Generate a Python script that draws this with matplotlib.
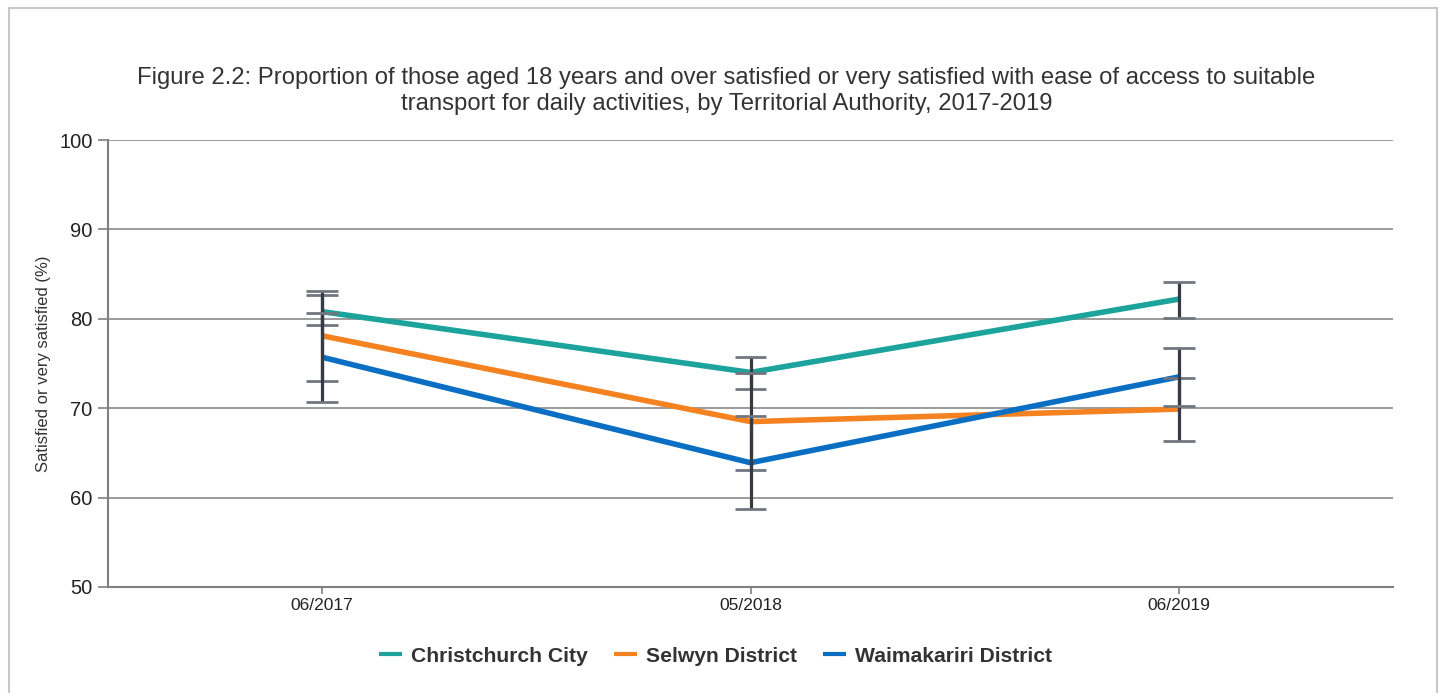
import matplotlib.pyplot as plt
from matplotlib.patches import Rectangle

plt.rcParams['font.family'] = ['Liberation Sans', 'DejaVu Sans']

periods = ['06/2017', '05/2018', '06/2019']
series = ['Christchurch City', 'Selwyn District', 'Waimakariri District']
colors = ['#1ba39c', '#f58220', '#0a6fc2']

values = {
    'Christchurch City': [80.8, 74.0, 82.2],
    'Selwyn District': [78.1, 68.5, 69.9],
    'Waimakariri District': [75.7, 63.9, 73.5],
}
lower = {
    'Christchurch City': [79.3, 72.2, 80.1],
    'Selwyn District': [73.0, 63.1, 66.3],
    'Waimakariri District': [70.7, 58.7, 70.2],
}
upper = {
    'Christchurch City': [82.7, 75.7, 84.1],
    'Selwyn District': [83.1, 73.9, 73.4],
    'Waimakariri District': [80.6, 69.1, 76.7],
}

fig = plt.figure(figsize=(14.44, 6.93), dpi=100)
fig.patches.append(Rectangle((9 / 1444, -0.01), 1428 / 1444, 1 - 8 / 693 + 0.01,
                             transform=fig.transFigure, fill=False,
                             edgecolor='#c8c8c8', linewidth=1.5))
ax = fig.add_axes([108 / 1444, 1 - 587 / 693, 1285 / 1444, 447 / 693])

x = [i + 0.5 for i in range(len(periods))]
for name, c in zip(series, colors):
    ax.plot(x, values[name], color=c, linewidth=4, label=name,
            solid_capstyle='butt', zorder=3)

# error bars drawn over the lines
for name in series:
    for xi, lo, hi in zip(x, lower[name], upper[name]):
        ax.vlines(xi, lo, hi, color='#353a45', linewidth=2.3, zorder=4)
        ax.hlines([lo, hi], xi - 0.037, xi + 0.037, color='#72767e',
                  linewidth=2, zorder=4)

ax.set_xlim(0, 3)
ax.set_ylim(50, 100)
ax.set_yticks(range(50, 101, 10))
ax.set_xticks(x)
ax.set_xticklabels(periods, fontsize=12.5, color='#222222')
ax.tick_params(axis='y', labelsize=14.5, colors='#222222', length=7,
               width=1.2, pad=4)
ax.tick_params(axis='y', color='#808080')
ax.tick_params(axis='x', length=5, width=1.2, color='#808080', pad=3)
ax.grid(axis='y', color='#8a8a8a', linewidth=1.2)
ax.set_axisbelow(True)
for s in ['top', 'right']:
    ax.spines[s].set_visible(False)
for s in ['left', 'bottom']:
    ax.spines[s].set_color('#808080')
    ax.spines[s].set_linewidth(1.5)

ax.set_ylabel('Satisfied or very satisfied (%)', fontsize=12,
              color='#333333', labelpad=6)

fig.text(0.503, 1 - 91 / 693,
         'Figure 2.2: Proportion of those aged 18 years and over satisfied or very satisfied with ease of access to suitable\n'
         'transport for daily activities, by Territorial Authority, 2017-2019',
         ha='center', va='center', fontsize=17.2, color='#333333',
         linespacing=1.25)

leg = fig.legend(loc='center', bbox_to_anchor=(0.4955, 1 - 656 / 693),
                 ncol=3, frameon=False, handlelength=1.1, handletextpad=0.45,
                 columnspacing=1.2,
                 prop={'weight': 'bold', 'size': 15.2})
for h in leg.legend_handles:
    h.set_linewidth(3)
for t in leg.get_texts():
    t.set_color('#333333')

fig.savefig('out.png', dpi=100)
